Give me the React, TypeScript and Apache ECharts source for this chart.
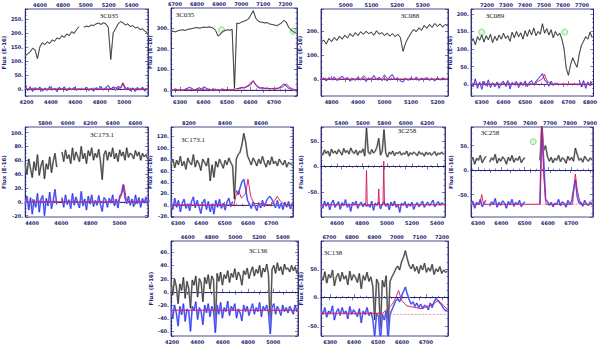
import { useEffect, useRef } from "react";
import * as echarts from "echarts";

// ---------- data (flux in 1E-16 units, sampled on a regular wavelength grid) ----------
const titles = ["3C035", "3C035", "3C088", "3C089", "3C173.1", "3C173.1", "3C258", "3C258", "3C136", "3C138"];
const redshifts = [0.067, 0.067, 0.0302, 0.1386, 0.292, 0.292, 0.165, 0.165, 0.064, 0.064];
const lamStart = [4190, 6262, 4760, 6250, 4353, 6270, 4472, 6270, 4192, 6262];
const lamStep = [20, 10, 10, 10, 12, 8, 14, 8, 14, 8];

const spec1 = [118,125,132,145,140,108,150,165,158,168,162,175,170,182,178,190,184,196,190,204,198,212,222,null,220,224,222,228,226,232,235,230,236,232,220,105,200,215,232,240,236,228,232,222,226,218,220,212,214,206,200,182];
const resid1 = [4,-6,8,-9,5,-3,7,-8,2,-5,9,-4,3,-10,6,-2,8,-7,4,-3,6,-5,2,null,-4,7,-6,3,-8,5,-2,9,-4,6,12,-3,8,-5,10,4,22,-3,6,-7,4,-9,5,-4,7,-8,3,-6];
const model1 = [[4190,0],[4880,0],[4920,6],[4950,2],[4975,4],[4992,20],[5012,3],[5040,0],[5210,0]];

const spec2 = [283,285,282,288,290,292,289,294,296,298,301,303,300,302,305,303,306,304,300,288,262,270,285,288,292,290,294,8,325,322,330,333,338,345,365,385,350,335,330,328,325,327,320,318,315,312,318,325,338,330,305,292,283,278];
const resid2 = [2,-3,4,-2,1,-4,3,8,12,6,-2,5,10,4,14,8,3,-2,6,-4,2,-3,4,-1,3,-2,2,null,5,8,12,10,15,22,35,42,25,12,8,10,6,9,4,7,3,5,10,18,28,20,8,3,-2,-5];
const model2 = [[6262,0],[6530,0],[6535,5],[6560,8],[6580,12],[6600,22],[6612,45],[6625,22],[6640,10],[6680,6],[6720,8],[6740,15],[6752,30],[6765,14],[6780,4],[6798,0]];
const circles2 = [[6477,292],[6782,285]];

const spec3 = [150,162,145,168,155,172,160,178,165,182,170,188,176,192,180,196,185,198,188,194,182,200,186,192,180,190,178,188,176,185,172,115,150,172,190,205,196,212,202,222,210,226,214,230,218,228,215,226,220];
const resid3 = [-4,5,-8,6,-3,9,-6,4,12,-2,7,-9,3,-5,8,-4,6,-10,5,-2,15,-3,8,-6,4,-8,10,18,-2,5,-7,-12,3,-5,6,-3,8,-6,4,-2,7,-5,3,-8,6,-4,5,-3,4];
const model3 = [[4760,0],[4910,0],[4922,15],[4935,0],[4990,0],[5000,18],[5012,0],[5240,0]];

const spec4 = [118,130,112,135,125,140,120,138,126,142,118,136,124,140,128,145,130,138,122,148,132,150,135,146,128,152,136,155,140,160,138,150,142,172,145,158,140,155,132,150,138,145,128,100,45,25,55,75,60,48,85,110,122,135,128,148,132];
const resid4 = [10,-8,15,-12,6,-15,8,-5,12,-10,4,-8,6,-12,3,8,-6,10,-14,5,-3,8,-10,6,-4,9,-7,5,10,-3,8,15,22,30,12,5,-6,8,-4,3,-2,null,null,null,null,null,null,null,null,null,12,-8,10,-12,6,-5,8];
const model4 = [[6250,0],[6540,0],[6560,8],[6580,15],[6590,28],[6600,10],[6620,0],[6816,0]];
const circles4 = [[6299,148],[6683,148]];

const spec5 = [55,40,62,48,35,58,45,68,38,52,60,33,55,47,65,42,58,70,50,null,null,72,58,75,62,68,55,78,60,72,65,58,80,62,70,55,74,66,78,60,70,64,76,58,32,68,74,60,72,65,78,62,70,58,75,66,72,60,78,64,70,68,62,74,66,72,60,70,65,68,62,66];
const resid5 = [-5,8,-12,6,-18,3,-8,12,-15,4,9,-20,5,-6,14,-10,2,18,-4,null,null,6,-8,10,-4,3,-10,12,-5,7,-2,-9,15,-6,4,-12,8,-3,10,-7,2,-5,9,-4,-14,6,3,-8,5,-2,10,-6,4,-9,8,12,25,6,-3,8,-5,4,-7,10,-3,6,-8,5,-2,7,-4,3];
const model5 = [[4353,0],[4990,0],[5010,8],[5030,24],[5045,5],[5060,0],[5206,0]];

const spec6 = [72,80,65,78,70,85,68,76,62,82,74,70,88,66,78,72,60,80,74,68,82,42,70,48,76,66,80,72,64,78,70,82,74,68,10,80,88,92,105,125,110,86,78,70,82,76,68,80,72,85,74,66,78,70,84,72,76,68,80,74,70,78,66,74,72,70];
const resid6 = [5,-8,12,-4,8,-12,3,10,-6,2,-10,6,14,-5,8,-3,-15,4,10,-8,6,-12,2,-16,8,-4,10,-6,3,-9,5,12,-3,6,null,25,18,30,40,45,28,8,2,-6,5,-2,-10,4,-5,8,-3,6,12,15,10,4,-5,8,-6,3,-8,5,-4,6,-7,3];
const model6 = [[6270,0],[6540,0],[6548,15],[6560,25],[6572,12],[6590,20],[6600,45],[6612,15],[6625,3],[6700,0],[6715,8],[6725,15],[6740,6],[6760,0],[6793,0]];

const spec7 = [28,22,32,25,30,20,34,26,30,24,33,28,22,35,27,31,24,36,29,25,32,22,30,27,34,20,75,28,24,33,26,30,38,55,22,30,72,26,18,28,24,30,21,27,25,29,22,26,24,30,20,27,23,28,25,21,29,24,26,20,28,23,27,22,25,29,21,26,24,28,23];
const resid7 = [-75,-82,-68,-78,-70,-85,-72,-66,-80,-74,-69,-84,-71,-77,-65,-80,-73,-88,-70,-76,-68,-82,-74,-70,-79,-72,-78,-75,-80,-68,-86,-72,-76,-70,-83,-74,-69,-78,-72,-85,-70,-77,-68,-80,-74,-90,-72,-76,-69,-81,-73,-78,-70,-84,-75,-71,-79,-73,-68,-80,-74,-70,-77,-72,-66,-79,-73,-69,-76,-71,-74];
const model7 = [[4472,-75],[4830,-75],[4836,-8],[4842,-75],[4928,-75],[4934,-44],[4940,-75],[4968,-75],[4974,10],[4980,-75],[5464,-75]];

const spec8 = [18,26,12,24,20,30,15,22,28,null,16,25,20,32,14,24,18,27,22,12,26,19,30,16,24,20,28,15,22,25,null,null,null,null,null,null,null,20,95,40,50,28,18,26,15,24,20,30,17,25,22,14,28,20,26,18,45,32,20,24,16,28,22,18,25,20];
const resid8 = [-72,-64,-78,-66,-70,-60,-75,-68,-62,null,-74,-65,-70,-58,-76,-66,-72,-63,-68,-78,-64,-71,-60,-74,-66,-70,-62,-75,-68,-65,null,null,null,null,null,null,null,-70,88,20,-60,-64,-72,-66,-75,-68,-70,-60,-73,-65,-68,-76,-62,-70,-64,-40,-20,-55,-68,-66,-74,-62,-70,-72,-65,-70];
const model8 = [[6270,-70],[6308,-70],[6316,-50],[6324,-70],[6566,-70],[6574,95],[6582,-10],[6592,-70],[6706,-70],[6714,-25],[6718,-8],[6726,-40],[6740,-70],[6793,-70]];
const circles8 = [[6537,58]];

const spec9 = [15,-5,20,8,-18,12,2,22,-10,16,5,-25,18,10,24,-8,20,14,-15,22,12,26,4,24,18,-60,28,16,30,10,26,20,32,14,28,22,35,18,30,24,10,32,26,36,20,30,38,24,34,28,40,22,36,30,42,26,-60,34,40,28,44,32,38,26,42,34,36,30,40,32,38,28,36];
const resid9 = [-25,-40,-20,-32,-52,-22,-35,-18,-45,-26,-30,-60,-22,-28,-15,-42,-24,-30,-50,-20,-32,-18,-38,-22,-28,-62,-20,-34,-16,-40,-24,-30,-14,-36,-22,-28,-18,-40,-26,-32,-44,-20,-30,-22,-36,-26,-18,-34,-24,-30,-16,-38,-22,-28,-20,-32,-64,-24,-18,-34,-22,-28,-36,-20,-30,-24,-32,-22,-28,-34,-20,-30,-26];
const model9 = [[4192,-28],[5208,-28]];

const spec10 = [38,30,45,25,40,34,48,20,36,42,28,44,32,38,22,46,30,40,35,26,42,15,38,30,44,28,36,20,-40,32,24,-60,30,18,38,-55,28,36,42,50,55,48,62,70,82,68,56,50,58,46,54,42,56,48,60,44,52,46,58,40,50,45,54,42,48,44,46];
const resid10 = [-22,-30,-18,-35,-24,-28,-15,-40,-26,-20,-32,-18,-28,-24,-38,-16,-30,-22,-27,-34,-20,-45,-24,-30,-18,-32,-26,-38,-70,-28,-34,-80,-30,-40,-24,-75,-30,-22,-14,-6,-2,-8,2,10,18,6,-4,-12,-8,-16,-10,-18,-12,-20,-14,-16,-22,-10,-18,-8,-2,-6,-10,-14,-20,-24,-22];
const model10 = [[6262,-28],[6520,-28],[6540,-20],[6560,-12],[6575,0],[6586,12],[6598,-5],[6620,-15],[6680,-20],[6730,-12],[6752,-5],[6775,-15],[6792,-22]];

const specs = [spec1, spec2, spec3, spec4, spec5, spec6, spec7, spec8, spec9, spec10];
const resids = [resid1, resid2, resid3, resid4, resid5, resid6, resid7, resid8, resid9, resid10];
const models = [model1, model2, model3, model4, model5, model6, model7, model8, model9, model10];
const circles = [[], circles2, [], circles4, [], [], [], circles8, [], []];
const baseLevels = [0, 0, 0, 0, 0, 0, -75, -70, -28, -30];

// axis ranges; tick steps come from ECharts' nice-number choice with these split counts
const xRange = [[4190,5195],[6262,6798],[4760,5240],[6250,6816],[4353,5195],[6270,6793],[4472,5464],[6270,6793],[4192,5195],[6262,6792]];
const xSplit = [5, 5, 5, 5, 4, 5, 5, 5, 5, 5];
const topSplit = [5, 5, 5, 6, 5, 3, 5, 5, 5, 5];
const yRange = [[-25,285],[-30,398],[-70,290],[-34,214],[-22,108],[-21,136],[-99,77],[-96,88],[-67,77],[-68,99]];
const ySplit = [6, 4, 4, 5, 6, 7, 4, 4, 7, 4];
const noisy = [false, false, false, false, true, true, true, true, true, true];

// ---------- layout ----------
const LAYOUT = [
  { left: 20, top: 9, width: 128, height: 87 },
  { left: 171, top: 8, width: 126, height: 88 },
  { left: 321, top: 9, width: 127, height: 87 },
  { left: 471, top: 9, width: 123, height: 87 },
  { left: 20, top: 127, width: 128, height: 90 },
  { left: 171, top: 127, width: 122, height: 90 },
  { left: 321, top: 127, width: 124, height: 90 },
  { left: 471, top: 127, width: 122, height: 90 },
  { left: 171, top: 241, width: 127, height: 95 },
  { left: 321, top: 241, width: 127, height: 95 },
];
const TITLE_POS = [[109,16],[185,15],[410,16],[495,16],[102,135],[193,140],[407,131],[490,133],[258,251],[333,253]];

const NAVY = "#1c1c72";

export default function App() {
  const ref = useRef<HTMLDivElement>(null);
  useEffect(() => {
    const chart = echarts.init(ref.current as HTMLDivElement, null, { renderer: "svg" });
    const grid: any[] = [];
    const xAxis: any[] = [];
    const yAxis: any[] = [];
    const series: any[] = [];
    const graphic: any[] = [];
    const labelStyle = { color: NAVY, fontSize: 5, fontWeight: "bold", fontFamily: "DejaVu Sans", showMinLabel: false, showMaxLabel: false };
    const tick = { show: true, inside: true, length: 3, lineStyle: { color: NAVY, width: 0.6 } };
    const minor = { show: true, splitNumber: 4, length: 1.5, lineStyle: { color: NAVY, width: 0.5 } };
    const line = { show: true, lineStyle: { color: NAVY, width: 0.8 } };

    for (let k = 0; k < 10; k++) {
      grid.push({ ...LAYOUT[k], show: true, borderColor: NAVY, borderWidth: 0.8, backgroundColor: "transparent" });
      const z = redshifts[k];
      const xi = xAxis.length;
      xAxis.push({
        gridIndex: k, type: "value", position: "bottom", min: xRange[k][0], max: xRange[k][1], splitNumber: xSplit[k],
        axisLine: line, axisTick: tick, minorTick: minor, splitLine: { show: false },
        axisLabel: { ...labelStyle, margin: 3, formatter: (v: number) => String(v) },
      });
      xAxis.push({
        gridIndex: k, type: "value", position: "top",
        min: Math.round(xRange[k][0] * (1 + z)), max: Math.round(xRange[k][1] * (1 + z)), splitNumber: topSplit[k],
        axisLine: line, axisTick: tick, minorTick: minor, splitLine: { show: false },
        axisLabel: { ...labelStyle, margin: 2, formatter: (v: number) => String(v) },
      });
      const yi = yAxis.length;
      yAxis.push({
        gridIndex: k, type: "value", position: "left", min: yRange[k][0], max: yRange[k][1], splitNumber: ySplit[k],
        name: "Flux (E-16)", nameLocation: "middle", nameGap: 13,
        nameTextStyle: { color: NAVY, fontSize: 5.5, fontWeight: "bold", fontFamily: "DejaVu Sans" },
        axisLine: line, axisTick: tick, minorTick: minor, splitLine: { show: false },
        axisLabel: { ...labelStyle, margin: 2, formatter: (v: number) => v + "." },
      });
      yAxis.push({
        gridIndex: k, type: "value", position: "right", min: yRange[k][0], max: yRange[k][1], splitNumber: ySplit[k],
        axisLine: line, axisTick: tick, minorTick: minor, splitLine: { show: false }, axisLabel: { show: false },
      });

      const l0 = lamStart[k], dl = lamStep[k];
      const sp = specs[k].map((v, i) => [l0 + i * dl, v]);
      const rs = resids[k].map((v, i) => [l0 + i * dl, v]);
      const common = { type: "line", xAxisIndex: xi, yAxisIndex: yi, showSymbol: false, symbol: "none", silent: true, connectNulls: false, clip: true };
      const bw = noisy[k] ? 1.8 : 1.1;
      series.push({ ...common, data: sp, lineStyle: { color: "#a0a0a0", width: bw } });
      series.push({ ...common, data: sp, lineStyle: { color: "#111111", width: 0.6 } });
      series.push({ ...common, data: rs, lineStyle: { color: "#8e9cff", width: bw } });
      series.push({ ...common, data: rs, lineStyle: { color: "#1414e6", width: 0.6 } });
      series.push({ ...common, data: [[xRange[k][0], baseLevels[k]], [xRange[k][1], baseLevels[k]]], lineStyle: { color: "#c07090", width: 0.6, type: "dashed" } });
      series.push({ ...common, data: models[k], lineStyle: { color: "#d3145a", width: 0.9 } });
      if (circles[k].length) {
        series.push({
          type: "scatter", xAxisIndex: xi, yAxisIndex: yi, data: circles[k], symbolSize: 6, silent: true,
          itemStyle: { color: "rgba(150,235,150,0.45)", borderColor: "#4cc44c", borderWidth: 0.8 },
        });
      }
      graphic.push({
        type: "text", x: TITLE_POS[k][0], y: TITLE_POS[k][1], silent: true,
        style: { text: titles[k], fill: "#111", fontSize: 7, fontFamily: "Liberation Serif", align: "center", verticalAlign: "middle" },
      });
    }

    chart.setOption({ animation: false, backgroundColor: "#fff", grid, xAxis, yAxis, series, graphic });
    return () => chart.dispose();
  }, []);
  return <div ref={ref} style={{ position: "absolute", left: 0, top: 0, width: 600, height: 344 }} />;
}
